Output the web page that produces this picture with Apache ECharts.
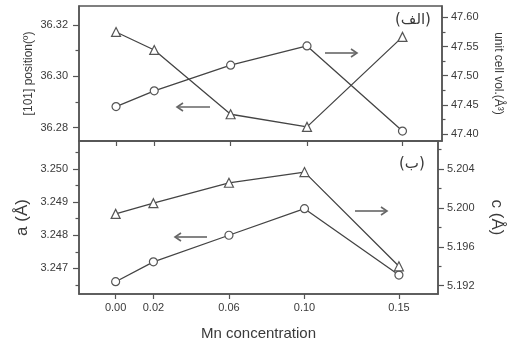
<!DOCTYPE html>
<html><head><meta charset="utf-8">
<script src="https://cdn.jsdelivr.net/npm/echarts@6/dist/echarts.min.js"></script>
<style>html,body{margin:0;padding:0;background:#fff}#c{width:513px;height:342px}</style>
</head><body><div id="c"></div>
<script>
// Data
const mn = [0.00, 0.02, 0.06, 0.10, 0.15];
const peakPos = [36.3172, 36.3102, 36.2852, 36.2803, 36.3153];   // top, triangles, left axis
const cellVol = [47.447, 47.474, 47.518, 47.551, 47.405];         // top, circles, right axis
const latA = [3.2466, 3.2472, 3.2480, 3.2488, 3.2468];            // bottom, circles, left axis
const latC = [5.1994, 5.2005, 5.2026, 5.2037, 5.1940];            // bottom, triangles, right axis
// Tick labels
const xTicks = [0.00, 0.02, 0.06, 0.10, 0.15];
const xTickLabels = ['0.00', '0.02', '0.06', '0.10', '0.15'];
const posTicks = [36.28, 36.30, 36.32];
const posMinor = [36.29, 36.31];
const volTicks = [47.40, 47.45, 47.50, 47.55, 47.60];
const volMinor = [47.425, 47.475, 47.525, 47.575];
const aTicks = [3.247, 3.248, 3.249, 3.250];
const aMinor = [3.2465, 3.2475, 3.2485, 3.2495, 3.2505];
const cTicks = [5.192, 5.196, 5.200, 5.204];
const cMinor = [5.194, 5.198, 5.202, 5.206];

const FG = '#3a3a3a', LINE = '#555';
const font = 'Liberation Sans, Arial, sans-serif';

function yAx(grid, pos, min, max, ticks, dec, name, nameGap, nameSize, rot) {
  return {
    type: 'value', gridIndex: grid, position: pos, min: min, max: max,
    axisLine: {show: true, onZero: false, lineStyle: {color: LINE, width: 1.5}},
    axisTick: {show: true, inside: false, length: 6, customValues: ticks, lineStyle: {color: LINE, width: 1.2}},
    axisLabel: {show: true, customValues: ticks, margin: pos === 'left' ? 11 : 9, color: FG, fontSize: 11, fontFamily: font,
      formatter: v => v.toFixed(dec)},
    splitLine: {show: false},
    name: name, nameLocation: 'middle', nameGap: nameGap, nameRotate: rot, nameMoveOverlap: false,
    nameTextStyle: {color: FG, fontSize: nameSize, fontFamily: font}
  };
}
function yMinor(grid, pos, min, max, ticks) {
  return {
    type: 'value', gridIndex: grid, position: pos, min: min, max: max,
    axisLine: {show: false, onZero: false},
    axisTick: {show: true, inside: false, length: 3.5, customValues: ticks, lineStyle: {color: LINE, width: 1.2}},
    axisLabel: {show: false}, splitLine: {show: false}
  };
}
function xAx(grid, showLabels) {
  return {
    type: 'value', gridIndex: grid, min: -0.0194, max: 0.1707,
    axisLine: {show: true, onZero: false, lineStyle: {color: LINE, width: 1.5}},
    axisTick: {show: true, inside: false, length: 5, customValues: xTicks, lineStyle: {color: LINE, width: 1.2}},
    axisLabel: {show: showLabels, customValues: xTicks, margin: 8, color: FG, fontSize: 11, fontFamily: font,
      formatter: v => xTickLabels[xTicks.findIndex(t => Math.abs(t - v) < 1e-9)] ?? v.toFixed(2)},
    splitLine: {show: false},
    name: showLabels ? 'Mn concentration' : '', nameLocation: 'middle', nameGap: 32, nameMoveOverlap: false,
    nameTextStyle: {color: FG, fontSize: 15, fontFamily: font}
  };
}
function ser(xi, yi, vals, sym, size) {
  return {
    type: 'line', xAxisIndex: xi, yAxisIndex: yi,
    data: mn.map((x, i) => [x, vals[i]]),
    symbol: sym, symbolSize: size, showSymbol: true,
    lineStyle: {color: '#444', width: 1.3},
    itemStyle: {color: '#fff', borderColor: '#555', borderWidth: 1.2},
    emphasis: {disabled: true}, animation: false
  };
}
function arrow(x1, x2, y) {
  const dir = x2 > x1 ? 1 : -1;
  return {
    type: 'group', children: [
      {type: 'line', shape: {x1: x1, y1: y, x2: x2, y2: y}, style: {stroke: '#666', lineWidth: 1.6}},
      {type: 'polyline', shape: {points: [[x2 - dir * 6, y - 4], [x2, y], [x2 - dir * 6, y + 4]]}, style: {stroke: '#666', lineWidth: 1.6, fill: null}}
    ]
  };
}

const chart = echarts.init(document.getElementById('c'), null, {renderer: 'canvas'});
chart.setOption({
  animation: false,
  grid: [
    {left: 79, right: 71, top: 6, height: 135, show: true, borderColor: LINE, borderWidth: 1.5},
    {left: 79, right: 71, top: 141, height: 154, show: true, borderColor: LINE, borderWidth: 1.5}
  ],
  xAxis: [xAx(0, false), xAx(1, true)],
  yAxis: [
    yAx(0, 'left', 36.2748, 36.3273, posTicks, 2, '[101] position(º)', 44, 12, 90),
    yAx(0, 'right', 47.388, 47.6194, volTicks, 2, 'unit cell vol.(Å³)', 50, 12, -90),
    yAx(1, 'left', 3.24623, 3.25084, aTicks, 3, 'a (Å)', 48, 17, 90),
    yAx(1, 'right', 5.19115, 5.2069, cTicks, 3, 'c (Å)', 50, 17, -90),
    yMinor(0, 'left', 36.2748, 36.3273, posMinor),
    yMinor(0, 'right', 47.388, 47.6194, volMinor),
    yMinor(1, 'left', 3.24623, 3.25084, aMinor),
    yMinor(1, 'right', 5.19115, 5.2069, cMinor)
  ],
  series: [
    ser(0, 0, peakPos, 'triangle', 9),
    ser(0, 1, cellVol, 'circle', 8),
    ser(1, 2, latA, 'circle', 8),
    ser(1, 3, latC, 'triangle', 9)
  ],
  graphic: [
    {type: 'text', left: 395, top: 13, style: {text: '(الف)', fill: FG, font: '15px "DejaVu Sans"'}},
    {type: 'text', left: 399, top: 157, style: {text: '(ب)', fill: FG, font: '15px "DejaVu Sans"'}},
    arrow(325, 357, 53),
    arrow(210, 177, 107),
    arrow(355, 387, 211),
    arrow(207, 175, 237)
  ]
});
</script></body></html>
